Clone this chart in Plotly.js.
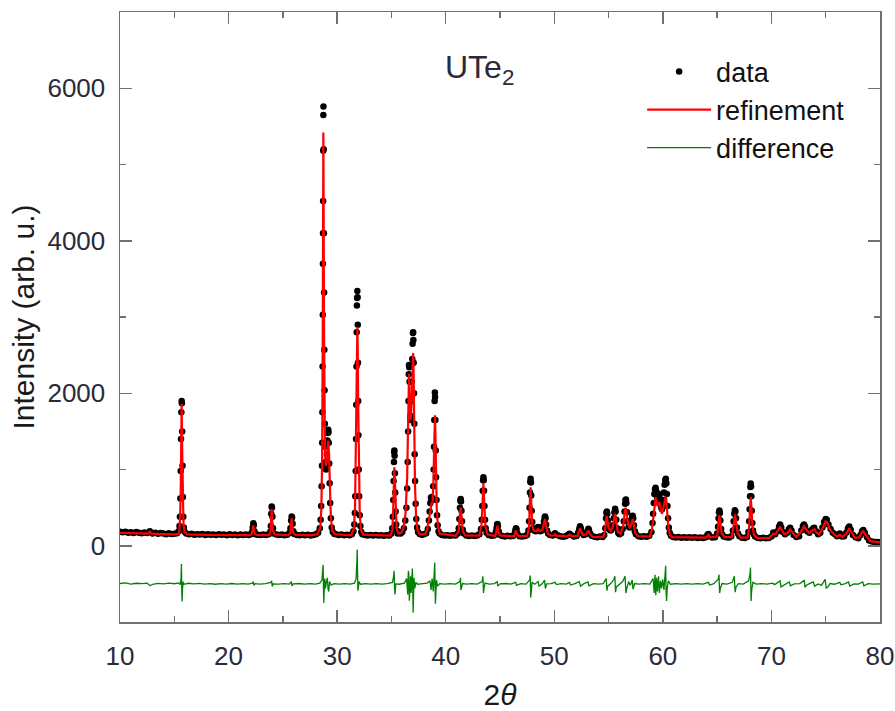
<!DOCTYPE html>
<html>
<head>
<meta charset="utf-8">
<script src="https://cdn.plot.ly/plotly-3.0.1.min.js"></script>
<style>html,body{margin:0;padding:0;background:#fff;}#chart{width:895px;height:711px;}</style>
</head>
<body>
<div id="chart"></div>
<script>
const observed = [
[10.0,182],[10.25,176],[10.5,185],[10.75,170],[11.0,178],[11.25,168],[11.5,180],[11.75,172],[12.0,165],[12.25,174],[12.5,168],[12.75,190],[13.0,162],[13.25,170],[13.5,158],[13.75,166],[14.0,160],[14.25,152],[14.5,163],[14.75,155],[15.0,158],[15.25,165],[15.4,190],
[15.48,260],[15.52,380],[15.56,620],[15.59,980],[15.62,1400],[15.65,1750],[15.68,1900],[15.70,1870],[15.73,1500],[15.76,1050],[15.79,640],[15.83,380],[15.88,240],[15.95,185],
[16.1,160],[16.35,150],[16.6,158],[16.85,145],[17.1,152],[17.35,146],[17.6,155],[17.85,142],[18.1,150],[18.35,144],[18.6,148],[18.85,140],[19.1,152],[19.35,143],[19.6,147],[19.85,139],[20.1,150],[20.35,141],[20.6,148],[20.85,138],[21.1,146],[21.35,140],[21.6,149],[21.85,142],[22.05,150],
[22.16,180],[22.22,240],[22.28,295],[22.32,270],[22.38,190],[22.46,150],
[22.7,145],[22.95,140],[23.2,148],[23.45,141],[23.7,150],[23.85,185],
[23.89,260],[23.93,420],[23.97,515],[24.00,500],[24.04,380],[24.09,230],[24.16,160],
[24.4,146],[24.65,140],[24.9,148],[25.15,139],[25.4,145],[25.62,170],
[25.7,230],[25.76,330],[25.81,385],[25.85,370],[25.9,290],[25.97,190],[26.05,155],
[26.3,142],[26.55,138],[26.8,145],[27.05,137],[27.3,143],[27.55,136],[27.8,142],[28.05,150],[28.25,170],[28.4,230],
[28.48,340],[28.53,520],[28.57,780],[28.6,1050],[28.62,1350],[28.64,1750],[28.66,2350],[28.68,3030],[28.69,3700],[28.70,4100],[28.71,4520],[28.72,5180],[28.73,5650],[28.74,5760],[28.76,5200],[28.78,4100],[28.80,3320],[28.82,2570],[28.84,2040],[28.87,1600],[28.9,1300],[28.94,1100],[28.98,1000],[29.02,1050],[29.06,1200],[29.1,1380],[29.14,1480],[29.18,1520],[29.2,1490],[29.23,1350],[29.27,1080],[29.31,820],[29.36,560],[29.42,360],[29.5,240],[29.6,180],[29.75,155],
[29.9,150],[30.15,140],[30.4,146],[30.65,137],[30.9,143],[31.15,138],[31.35,150],[31.5,190],
[31.58,280],[31.63,430],[31.67,650],[31.71,980],[31.74,1400],[31.76,1850],[31.78,2350],[31.80,2800],[31.82,3150],[31.84,3250],[31.86,3340],[31.88,3260],[31.90,2900],[31.92,2400],[31.94,1900],[31.96,1450],[31.99,1000],[32.03,650],[32.08,400],[32.14,260],[32.22,180],[32.32,150],
[32.55,140],[32.8,135],[33.05,142],[33.3,134],[33.55,140],[33.8,133],[34.05,139],[34.3,132],[34.55,138],[34.8,135],[35.0,160],
[35.08,230],[35.13,380],[35.17,600],[35.2,850],[35.23,1100],[35.25,1230],[35.27,1250],[35.29,1180],[35.32,950],[35.35,700],[35.39,450],[35.44,280],[35.5,200],[35.58,160],
[35.7,170],[35.85,160],[36.0,180],[36.15,230],[36.28,330],[36.38,500],
[36.45,750],[36.5,1100],[36.54,1500],[36.57,1900],[36.6,2250],[36.62,2370],[36.64,2340],[36.67,2150],[36.7,1900],[36.73,1700],[36.76,1650],[36.8,1700],[36.84,1900],[36.88,2150],[36.92,2450],[36.95,2650],[36.98,2790],[37.0,2800],[37.02,2700],[37.05,2400],[37.08,2000],[37.11,1600],[37.14,1200],[37.18,850],[37.23,550],[37.29,350],[37.36,240],[37.45,180],
[37.6,155],[37.8,145],[38.0,150],[38.2,165],[38.35,220],[38.45,330],
[38.52,450],[38.58,560],[38.64,630],[38.69,640],[38.74,600],[38.8,620],[38.85,780],[38.89,1000],[38.92,1300],[38.95,1650],[38.98,1900],[39.0,2010],[39.02,1950],[39.05,1650],[39.08,1250],[39.11,900],[39.15,600],[39.2,400],[39.26,270],[39.34,190],[39.44,160],
[39.65,140],[39.9,133],[40.15,139],[40.4,131],[40.65,137],[40.9,133],[41.1,160],
[41.2,230],[41.26,350],[41.31,500],[41.35,590],[41.38,614],[41.41,580],[41.45,460],[41.5,320],[41.57,210],[41.66,160],
[41.9,133],[42.15,128],[42.4,135],[42.65,127],[42.9,133],[43.1,150],[43.25,220],
[43.32,340],[43.37,520],[43.41,720],[43.44,860],[43.47,900],[43.5,860],[43.53,720],[43.57,520],[43.62,340],[43.68,230],[43.76,170],
[43.95,140],[44.2,130],[44.45,136],[44.62,180],
[44.68,230],[44.73,275],[44.77,285],[44.81,260],[44.88,190],[44.97,145],
[45.2,128],[45.45,122],[45.7,130],[45.95,123],[46.2,129],[46.35,160],
[46.41,200],[46.47,228],[46.52,215],[46.6,160],
[46.8,125],[47.05,120],[47.3,127],[47.5,140],[47.62,200],
[47.68,320],[47.72,500],[47.76,700],[47.79,840],[47.82,880],[47.85,830],[47.88,660],[47.92,460],[47.97,310],
[48.05,230],[48.15,200],[48.3,190],[48.42,225],[48.5,245],[48.58,220],[48.7,190],[48.85,200],[48.98,260],
[49.05,320],[49.11,370],[49.15,385],[49.19,360],[49.25,280],[49.33,200],[49.43,160],
[49.6,140],[49.85,135],[50.07,165],[50.3,138],[50.55,125],[50.8,118],[51.05,124],[51.25,140],[51.4,158],[51.55,140],[51.8,122],[52.05,128],[52.2,170],
[52.3,220],[52.37,255],[52.44,230],[52.55,175],[52.7,140],[52.9,150],[53.05,195],
[53.14,222],[53.2,205],[53.3,160],[53.45,130],
[53.7,118],[53.95,112],[54.2,120],[54.45,114],[54.6,140],[54.7,230],
[54.76,360],[54.8,430],[54.84,450],[54.88,420],[54.93,330],[55.0,250],[55.1,210],[55.2,200],[55.3,220],[55.4,270],[55.48,360],[55.54,440],[55.6,485],[55.65,450],[55.71,340],[55.78,230],[55.88,170],[56.0,150],[56.15,165],[56.3,220],[56.4,320],
[56.47,450],[56.52,550],[56.56,600],[56.6,605],[56.64,560],[56.7,440],[56.77,320],[56.85,250],[56.95,240],[57.05,280],[57.12,340],[57.18,385],[57.22,395],[57.27,360],[57.34,270],[57.42,190],[57.52,150],
[57.75,125],[58.0,118],[58.25,124],[58.5,117],[58.75,130],[58.95,180],[59.05,300],
[59.1,420],[59.16,560],[59.22,680],[59.28,740],[59.33,760],[59.38,720],[59.44,650],[59.5,600],[59.56,640],[59.62,680],[59.68,660],[59.74,600],[59.8,540],[59.86,500],[59.92,480],[59.98,520],[60.04,600],[60.1,700],[60.16,800],[60.22,860],[60.27,880],[60.32,820],[60.37,680],[60.42,520],[60.48,360],[60.55,240],[60.63,170],[60.75,130],
[60.95,115],[61.2,108],[61.45,114],[61.7,106],[61.95,112],[62.2,105],[62.45,111],[62.7,104],[62.95,110],[63.2,103],[63.45,109],[63.7,103],[63.95,112],[64.1,140],[64.2,155],[64.32,125],[64.55,108],[64.8,112],[65.0,160],[65.08,250],
[65.13,360],[65.17,440],[65.21,462],[65.25,430],[65.3,330],[65.37,220],[65.46,150],[65.6,120],
[65.85,110],[66.1,108],[66.3,125],[66.45,200],
[66.52,320],[66.58,420],[66.63,465],[66.68,450],[66.74,360],[66.82,240],[66.92,160],[67.05,125],
[67.3,105],[67.55,102],[67.75,115],[67.88,180],
[67.95,320],[67.99,480],[68.03,650],[68.06,770],[68.09,815],[68.12,780],[68.15,650],[68.19,460],[68.24,300],[68.3,200],[68.38,150],[68.5,120],
[68.75,102],[69.0,98],[69.25,104],[69.5,97],[69.75,103],[70.0,120],[70.17,175],[70.35,150],[70.55,190],[70.7,250],[70.8,278],[70.9,240],[71.05,180],[71.25,150],[71.45,170],[71.6,215],[71.72,235],[71.85,200],[72.05,140],[72.3,115],[72.55,125],[72.75,200],[72.9,260],[73.0,278],[73.1,250],[73.3,190],[73.5,170],[73.7,205],[73.85,230],[73.95,235],[74.1,190],[74.3,150],[74.5,170],[74.7,240],[74.85,310],[75.0,350],[75.1,340],[75.25,280],[75.45,220],[75.65,170],[75.85,150],[76.05,125],[76.3,160],[76.5,120],[76.7,125],[76.9,175],[77.05,230],[77.17,252],[77.3,210],[77.5,140],[77.75,110],[78.0,100],[78.2,140],[78.35,190],[78.46,208],[78.6,170],[78.8,110],[79.0,70],[79.25,55],[79.5,50],[79.75,48],[80.0,45]
];

// Rietveld refinement (calculated) profile
const refinement = [
[10.0,168],[11.0,166],[12.0,162],[12.6,160],[12.76,185],[12.9,158],[14.0,152],[15.0,148],[15.45,160],[15.55,420],[15.6,800],[15.64,1350],[15.68,1860],[15.72,1320],[15.77,650],[15.85,280],[15.95,175],[16.2,150],[18.0,143],[20.0,140],[22.0,140],
[22.15,160],[22.24,220],[22.28,268],[22.32,225],[22.4,165],[22.55,142],[23.7,140],[23.85,170],[23.93,350],[23.97,480],[24.01,360],[24.08,200],[24.25,148],[25.5,138],[25.68,165],[25.77,290],[25.81,360],[25.85,290],[25.93,180],[26.1,145],[27.5,135],[28.2,150],
[28.45,250],[28.55,500],[28.62,1200],[28.67,2600],[28.7,4200],[28.73,5420],[28.76,4300],[28.79,2900],[28.83,1800],[28.88,1250],[28.95,1050],[29.05,1100],[29.12,1280],[29.19,1380],[29.25,1200],[29.32,750],[29.42,380],[29.55,200],[29.8,150],[31.3,136],
[31.55,230],[31.65,520],[31.72,1150],[31.78,2100],[31.83,2700],[31.86,2870],[31.89,2650],[31.94,1850],[32.0,950],[32.08,420],[32.2,200],[32.4,145],[34.9,132],
[35.08,200],[35.16,470],[35.22,900],[35.27,1030],[35.32,850],[35.38,450],[35.48,220],[35.65,160],[35.9,170],[36.1,220],[36.3,420],
[36.45,900],[36.54,1600],[36.6,2150],[36.62,2260],[36.66,2100],[36.72,1700],[36.78,1650],[36.85,1850],[36.92,2250],[36.97,2500],[37.0,2526],[37.04,2300],[37.1,1500],[37.17,800],[37.27,380],[37.4,200],[37.6,150],[38.1,150],
[38.3,220],[38.5,420],[38.62,540],[38.7,560],[38.78,560],[38.86,800],[38.93,1250],[38.98,1620],[39.01,1710],[39.05,1500],[39.1,950],[39.17,500],[39.28,250],[39.45,160],[40.9,130],
[41.2,190],[41.3,400],[41.38,504],[41.46,380],[41.58,190],[41.8,135],[43.1,132],[43.3,280],[43.4,620],[43.47,811],[43.54,600],[43.65,260],[43.85,150],[44.55,128],[44.68,190],[44.76,260],[44.84,190],[45.0,135],[46.3,122],[46.4,160],[46.47,200],[46.55,160],[46.7,125],[47.5,125],
[47.68,250],[47.75,580],[47.82,767],[47.88,560],[47.97,260],[48.1,200],[48.35,190],[48.5,220],[48.65,195],[48.9,210],[49.05,280],[49.15,350],[49.25,260],[49.4,160],[49.7,132],[49.95,135],[50.07,150],[50.2,132],[51.2,122],[51.4,145],[51.6,125],[52.15,130],[52.28,190],[52.37,230],[52.46,190],[52.65,140],[52.95,150],[53.14,200],[53.3,150],[53.55,115],[54.5,113],
[54.68,200],[54.78,350],[54.83,390],[54.89,340],[55.0,230],[55.2,195],[55.4,250],[55.52,370],[55.6,420],[55.68,340],[55.85,180],[56.1,160],[56.35,260],[56.5,450],[56.58,500],[56.66,430],[56.8,280],[56.98,230],[57.12,310],[57.22,350],[57.3,300],[57.45,170],[57.7,125],[58.8,120],
[59.0,220],[59.15,450],[59.28,620],[59.34,636],[59.42,560],[59.52,520],[59.62,560],[59.7,560],[59.8,470],[59.92,420],[60.05,500],[60.15,600],[60.25,640],[60.31,620],[60.4,430],[60.5,250],[60.65,140],[60.9,112],[64.0,108],[64.2,145],[64.35,110],[65.0,120],
[65.1,250],[65.2,400],[65.28,320],[65.42,160],[65.7,112],[66.35,115],[66.5,250],[66.65,410],[66.75,310],[66.9,160],[67.2,108],[67.8,110],[67.95,250],[68.03,500],[68.09,640],[68.15,520],[68.25,260],[68.4,140],[68.7,100],[69.8,100],
[70.17,160],[70.4,150],[70.65,220],[70.8,250],[70.95,210],[71.2,150],[71.5,170],[71.72,215],[71.9,180],[72.3,115],[72.7,180],[72.9,240],[73.0,255],[73.15,225],[73.45,165],[73.75,200],[73.95,215],[74.15,175],[74.4,150],[74.7,230],[74.9,300],[75.0,320],[75.15,300],[75.4,210],[75.7,160],[76.05,120],[76.3,145],[76.55,115],[76.95,170],[77.17,230],[77.35,180],[77.7,105],[78.1,110],[78.3,170],[78.46,190],[78.65,150],[78.9,90],[79.1,60],[80.0,45]
];

// Difference curve (observed - calculated, offset)
const difference = [
[10.0,-495],[10.5,-488],[11.0,-502],[11.5,-492],[12.0,-498],[12.5,-490],[12.76,-525],[13.0,-505],[13.5,-494],[14.0,-500],[14.5,-490],[15.0,-498],[15.4,-488],[15.55,-510],[15.62,-430],[15.66,-240],[15.69,-600],[15.72,-730],[15.76,-560],[15.82,-470],[15.9,-505],
[16.3,-492],[16.8,-500],[17.3,-494],[17.8,-503],[18.3,-496],[18.8,-505],[19.3,-497],[19.8,-502],[20.3,-495],[20.8,-504],[21.3,-497],[21.8,-503],[22.2,-490],[22.28,-470],[22.33,-520],[22.45,-498],[22.9,-503],[23.4,-497],[23.9,-480],[23.97,-460],[24.02,-535],[24.1,-500],[24.6,-504],[25.1,-496],[25.6,-502],[25.78,-470],[25.84,-525],[25.95,-500],[26.5,-495],[27.0,-503],[27.5,-497],[28.0,-502],
[28.4,-490],[28.6,-450],[28.67,-330],[28.71,-250],[28.74,-560],[28.77,-750],[28.8,-620],[28.86,-430],[28.92,-560],[29.0,-480],[29.1,-420],[29.16,-560],[29.22,-600],[29.3,-470],[29.45,-515],[29.7,-498],[30.2,-503],[30.7,-496],[31.2,-502],
[31.6,-490],[31.75,-430],[31.82,-200],[31.85,-50],[31.88,-350],[31.91,-590],[31.95,-560],[32.02,-470],[32.15,-505],[32.6,-497],[33.1,-503],[33.6,-496],[34.1,-502],[34.6,-497],
[35.1,-480],[35.2,-400],[35.25,-330],[35.29,-560],[35.33,-640],[35.4,-500],[35.7,-505],[36.2,-490],[36.4,-430],[36.5,-640],[36.56,-330],[36.6,-380],[36.65,-720],[36.7,-560],[36.76,-400],[36.82,-620],[36.88,-350],[36.93,-300],[36.97,-600],[37.0,-880],[37.03,-700],[37.08,-420],[37.15,-560],[37.25,-480],[37.4,-505],[37.9,-497],
[38.3,-490],[38.55,-460],[38.65,-580],[38.75,-430],[38.85,-600],[38.92,-420],[38.96,-280],[38.99,-220],[39.02,-520],[39.05,-760],[39.09,-640],[39.15,-450],[39.25,-530],[39.45,-498],[39.9,-503],[40.4,-496],[40.9,-502],
[41.3,-470],[41.36,-420],[41.4,-580],[41.45,-540],[41.55,-495],[41.9,-503],[42.4,-497],[42.9,-502],[43.35,-470],[43.43,-400],[43.48,-620],[43.53,-560],[43.62,-490],[44.0,-503],[44.5,-496],[44.74,-470],[44.8,-530],[45.0,-500],[45.5,-495],[46.0,-503],[46.45,-480],[46.52,-520],[46.9,-497],[47.4,-503],
[47.72,-450],[47.78,-390],[47.83,-680],[47.88,-580],[47.95,-480],[48.2,-505],[48.5,-470],[48.6,-530],[48.9,-495],[49.1,-450],[49.18,-560],[49.3,-500],[49.7,-496],[50.07,-480],[50.2,-510],[50.6,-498],[51.1,-503],[51.4,-480],[51.5,-515],[51.9,-497],[52.3,-470],[52.42,-530],[52.7,-500],[53.1,-475],[53.2,-525],[53.6,-497],[54.1,-503],[54.5,-497],
[54.78,-430],[54.85,-590],[54.92,-530],[55.2,-496],[55.5,-440],[55.58,-400],[55.64,-610],[55.72,-540],[56.0,-502],[56.3,-470],[56.52,-400],[56.6,-620],[56.68,-560],[56.85,-470],[57.0,-520],[57.18,-450],[57.25,-570],[57.4,-495],[57.8,-503],[58.3,-497],[58.8,-502],
[59.1,-430],[59.2,-620],[59.28,-380],[59.35,-650],[59.42,-420],[59.5,-600],[59.6,-400],[59.68,-620],[59.78,-460],[59.88,-560],[59.98,-440],[60.1,-580],[60.2,-380],[60.26,-263],[60.3,-600],[60.34,-724],[60.4,-560],[60.5,-460],[60.7,-505],
[61.2,-497],[61.7,-503],[62.2,-496],[62.7,-502],[63.2,-497],[63.7,-503],[64.2,-480],[64.3,-515],[64.7,-497],[65.1,-440],[65.17,-380],[65.23,-620],[65.3,-560],[65.45,-495],[65.9,-503],[66.4,-480],[66.58,-400],[66.66,-610],[66.74,-540],[66.95,-497],[67.4,-503],
[67.9,-460],[68.03,-370],[68.07,-285],[68.1,-600],[68.13,-724],[68.18,-580],[68.3,-480],[68.6,-503],[69.1,-497],[69.6,-503],[70.1,-490],[70.3,-510],[70.7,-470],[70.8,-460],[70.88,-540],[71.0,-530],[71.3,-495],[71.65,-475],[71.75,-525],[72.1,-500],[72.6,-497],
[72.9,-470],[73.02,-455],[73.1,-545],[73.2,-520],[73.5,-497],[73.85,-475],[73.98,-530],[74.3,-500],[74.6,-520],[74.85,-450],[74.95,-440],[75.05,-555],[75.2,-540],[75.4,-495],[75.8,-505],[76.3,-480],[76.4,-512],[76.8,-497],[77.1,-475],[77.22,-528],[77.6,-500],[78.0,-503],[78.4,-475],[78.52,-525],[78.9,-497],[79.4,-503],[79.9,-498],[80.0,-500]
];

const xTickVals = [10, 20, 30, 40, 50, 60, 70, 80];
const yTickVals = [0, 2000, 4000, 6000];

const col = (arr, i) => arr.map(p => p[i]);

const traces = [
  {
    x: col(observed, 0), y: col(observed, 1),
    type: 'scatter', mode: 'markers', name: 'data',
    marker: {color: '#000000', size: 6.5}
  },
  {
    x: col(refinement, 0), y: col(refinement, 1),
    type: 'scatter', mode: 'lines', name: 'refinement',
    line: {color: '#ff0000', width: 2.2}
  },
  {
    x: col(difference, 0), y: col(difference, 1),
    type: 'scatter', mode: 'lines', name: 'difference',
    line: {color: '#008000', width: 1.3}
  }
];

const axisCommon = {
  showgrid: false, zeroline: false, showline: true,
  linecolor: '#707070', linewidth: 1.5, mirror: 'allticks',
  ticks: 'inside', ticklen: 12, tickwidth: 1.5, tickcolor: '#707070',
  tickfont: {size: 26, color: '#2a2a3a', family: 'Liberation Sans, Arial, sans-serif'}
};

const layout = {
  width: 895, height: 711,
  margin: {l: 120, r: 15, t: 12, b: 89},
  paper_bgcolor: '#ffffff', plot_bgcolor: '#ffffff',
  font: {family: 'Liberation Sans, Arial, sans-serif', color: '#1a1a1a'},
  showlegend: true,
  legend: {
    x: 0.687, y: 0.942, xanchor: 'left', yanchor: 'top',
    bgcolor: 'rgba(0,0,0,0)', borderwidth: 0,
    font: {size: 27, color: '#111111'}, itemwidth: 64, tracegroupgap: 0
  },
  xaxis: Object.assign({}, axisCommon, {
    range: [10, 80], tickvals: xTickVals, ticktext: xTickVals.map(String),
    minor: {dtick: 5, tick0: 0, ticks: 'inside', ticklen: 6, tickwidth: 1.5, tickcolor: '#707070'},
    title: {text: '2<i>θ</i>', font: {size: 30, color: '#1a1a1a'}, standoff: 16},
    ticklabelstandoff: 10
  }),
  yaxis: Object.assign({}, axisCommon, {
    range: [-1000, 7000], tickvals: yTickVals, ticktext: yTickVals.map(String),
    minor: {dtick: 1000, tick0: 0, ticks: 'inside', ticklen: 6, tickwidth: 1.5, tickcolor: '#707070'},
    title: {text: 'Intensity (arb. u.)', font: {size: 30, color: '#1a1a1a'}, standoff: 4},
    ticklabelstandoff: 8
  }),
  annotations: [{
    xref: 'paper', yref: 'paper', x: 0.473, y: 0.906, xanchor: 'center', yanchor: 'middle',
    text: 'UTe<sub>2</sub>', showarrow: false,
    font: {size: 32, color: '#2a2a3a'}
  }]
};

Plotly.newPlot('chart', traces, layout, {displayModeBar: false, staticPlot: true});
</script>
</body>
</html>
